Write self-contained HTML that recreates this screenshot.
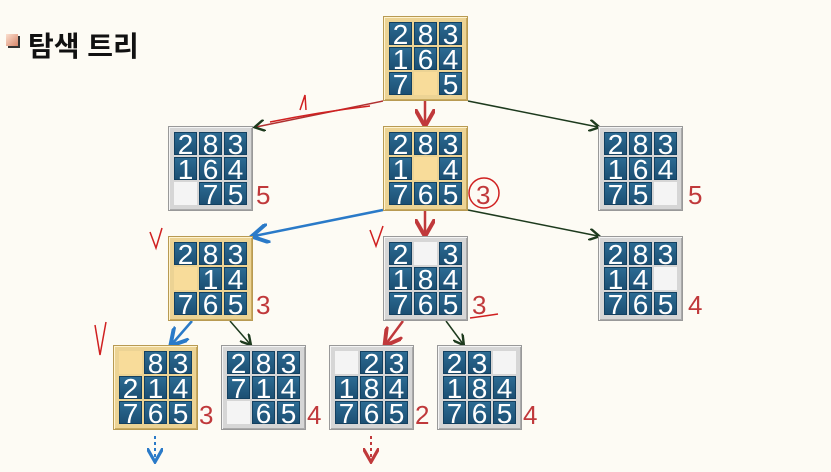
<!DOCTYPE html>
<html><head><meta charset="utf-8"><style>
body{margin:0;width:831px;height:472px;background:#fdfbf4;position:relative;overflow:hidden;font-family:"Liberation Sans","Noto Sans CJK KR",sans-serif}
.b{position:absolute;width:73px;height:73px;padding:5px;display:grid;grid-template-columns:23px 23px 23px;grid-template-rows:23px 23px 23px;gap:2px;box-sizing:content-box}
.g{background:#ecd394;border:1px solid #b89a52;box-shadow:inset 1px 1px 0 #fff3cf,inset -1px -1px 0 #c8aa60}
.s{background:#d6d6d6;border:1px solid #999;box-shadow:inset 1px 1px 0 #f4f4f4,inset -1px -1px 0 #aaa}
.b div{background:linear-gradient(#2c6b93,#1c4f73);color:#fff;font-size:28px;line-height:24px;text-align:center;border:1px solid #134060;box-sizing:border-box}
.g div.e{background:#f8dc9a;border-color:#f8dc9a}
.s div.e{background:#f4f4f4;border-color:#f4f4f4}
.n{position:absolute;color:#c0393b;font-size:26px}
</style></head><body>
<div style="position:absolute;left:6px;top:34px;width:12px;height:12px;background:linear-gradient(135deg,#fbe0d0,#d8866a);box-shadow:2px 2px 0 #333"></div>
<div style="position:absolute;left:28px;top:25px;font-size:28px;font-weight:bold;color:#111">탐색 트리</div>
<svg width="831" height="472" style="position:absolute;left:0;top:0">
<defs>
<marker id="ar" markerWidth="8" markerHeight="8" refX="6" refY="4" orient="auto"><path d="M0,0L7,4L0,8" fill="none" stroke="#c0393b" stroke-width="1.6"/></marker>
<marker id="ak" markerWidth="8" markerHeight="8" refX="6" refY="4" orient="auto"><path d="M0,0L7,4L0,8" fill="none" stroke="#1d3a1d" stroke-width="1.6"/></marker>
<marker id="ab" markerWidth="8" markerHeight="8" refX="6" refY="4" orient="auto"><path d="M0,0L7,4L0,8" fill="none" stroke="#2a7ac8" stroke-width="1.6"/></marker>
</defs>
<g stroke-width="1.5" fill="none">
<line x1="383" y1="101" x2="256" y2="127" stroke="#b03030" marker-end="url(#ak)"/>
<line x1="425" y1="101" x2="425" y2="124" stroke="#c0393b" stroke-width="2.5" marker-end="url(#ar)"/>
<line x1="468" y1="101" x2="598" y2="127" stroke="#1d3a1d" marker-end="url(#ak)"/>
<line x1="383" y1="210" x2="254" y2="236" stroke="#2a7ac8" stroke-width="2.5" marker-end="url(#ab)"/>
<line x1="425" y1="211" x2="425" y2="234" stroke="#c0393b" stroke-width="2.5" marker-end="url(#ar)"/>
<line x1="468" y1="210" x2="598" y2="236" stroke="#1d3a1d" marker-end="url(#ak)"/>
<line x1="192" y1="321" x2="172" y2="344" stroke="#2a7ac8" stroke-width="2.5" marker-end="url(#ab)"/>
<line x1="230" y1="321" x2="250" y2="344" stroke="#1d3a1d" marker-end="url(#ak)"/>
<line x1="403" y1="321" x2="386" y2="344" stroke="#c0393b" stroke-width="2.5" marker-end="url(#ar)"/>
<line x1="446" y1="321" x2="463" y2="344" stroke="#1d3a1d" marker-end="url(#ak)"/>
<line x1="155" y1="436" x2="155" y2="460" stroke="#2a7ac8" stroke-width="2" stroke-dasharray="3,3" marker-end="url(#ab)"/>
<line x1="371" y1="436" x2="371" y2="460" stroke="#c0393b" stroke-width="2" stroke-dasharray="3,3" marker-end="url(#ar)"/>
<g stroke="#d02020" stroke-width="1.5">
<path d="M300,110 L305,95 L306,110 M270,122 Q320,112 370,106"/>
<path d="M390,135 Q430,128 465,130 L462,205 L390,203 Z"/>
<circle cx="484" cy="193" r="15"/>
<path d="M150,232 L156,248 L162,228 M370,230 L376,246 L383,226 M95,325 L100,355 L106,322 M470,318 Q485,316 498,314"/>
<path d="M178,138 L182,146 L186,134 M205,138 L209,146 L213,134 M178,190 L182,198 L186,186"/>
</g>
</g>
</svg>
<div class="b g" style="left:383px;top:16px"><div>2</div><div>8</div><div>3</div><div>1</div><div>6</div><div>4</div><div>7</div><div class="e"></div><div>5</div></div>
<div class="b s" style="left:168px;top:126px"><div>2</div><div>8</div><div>3</div><div>1</div><div>6</div><div>4</div><div class="e"></div><div>7</div><div>5</div></div>
<div class="b g" style="left:383px;top:126px"><div>2</div><div>8</div><div>3</div><div>1</div><div class="e"></div><div>4</div><div>7</div><div>6</div><div>5</div></div>
<div class="b s" style="left:598px;top:126px"><div>2</div><div>8</div><div>3</div><div>1</div><div>6</div><div>4</div><div>7</div><div>5</div><div class="e"></div></div>
<div class="b g" style="left:168px;top:236px"><div>2</div><div>8</div><div>3</div><div class="e"></div><div>1</div><div>4</div><div>7</div><div>6</div><div>5</div></div>
<div class="b s" style="left:383px;top:236px"><div>2</div><div class="e"></div><div>3</div><div>1</div><div>8</div><div>4</div><div>7</div><div>6</div><div>5</div></div>
<div class="b s" style="left:598px;top:236px"><div>2</div><div>8</div><div>3</div><div>1</div><div>4</div><div class="e"></div><div>7</div><div>6</div><div>5</div></div>
<div class="b g" style="left:113px;top:345px"><div class="e"></div><div>8</div><div>3</div><div>2</div><div>1</div><div>4</div><div>7</div><div>6</div><div>5</div></div>
<div class="b s" style="left:221px;top:345px"><div>2</div><div>8</div><div>3</div><div>7</div><div>1</div><div>4</div><div class="e"></div><div>6</div><div>5</div></div>
<div class="b s" style="left:329px;top:345px"><div class="e"></div><div>2</div><div>3</div><div>1</div><div>8</div><div>4</div><div>7</div><div>6</div><div>5</div></div>
<div class="b s" style="left:437px;top:345px"><div>2</div><div>3</div><div class="e"></div><div>1</div><div>8</div><div>4</div><div>7</div><div>6</div><div>5</div></div>
<div class="n" style="left:256px;top:180px">5</div>
<div class="n" style="left:476px;top:180px">3</div>
<div class="n" style="left:688px;top:180px">5</div>
<div class="n" style="left:256px;top:290px">3</div>
<div class="n" style="left:472px;top:290px">3</div>
<div class="n" style="left:688px;top:290px">4</div>
<div class="n" style="left:199px;top:400px">3</div>
<div class="n" style="left:307px;top:400px">4</div>
<div class="n" style="left:415px;top:400px">2</div>
<div class="n" style="left:523px;top:400px">4</div>
</body></html>
